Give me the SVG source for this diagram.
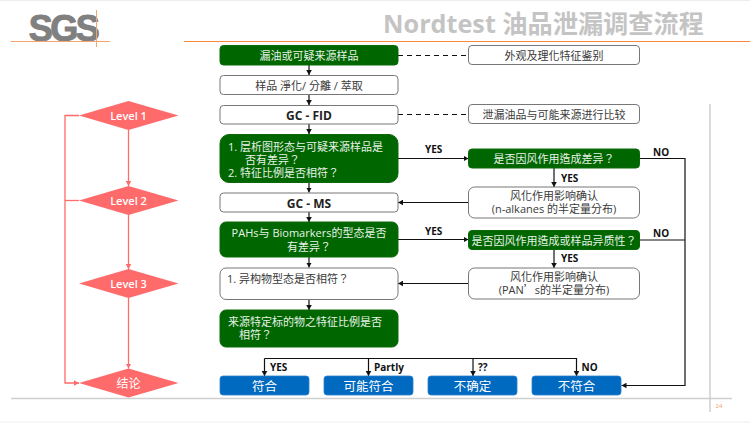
<svg xmlns="http://www.w3.org/2000/svg" width="750" height="423" viewBox="0 0 750 423">
<defs>
<marker id="a" markerWidth="6" markerHeight="6" refX="5" refY="3" orient="auto" markerUnits="userSpaceOnUse"><path d="M0,0.2 L5,3 L0,5.8Z" fill="#111"/></marker>
<marker id="p" markerWidth="6" markerHeight="6" refX="5" refY="3" orient="auto" markerUnits="userSpaceOnUse"><path d="M0,0.2 L5,3 L0,5.8Z" fill="#ff6a6a"/></marker>
</defs>
<style>
text{font-family:"Open Sans","Noto Sans CJK TC",sans-serif;text-anchor:middle;font-size:11px}
.g rect{fill:#006600;stroke:#0a6a0a;stroke-width:1}
.g text{fill:#e8f2e8}
.w rect{fill:#fff;stroke:#777;stroke-width:1}
.w text{fill:#3a3a3a}
.b rect{fill:#0069c0;stroke:#2a80cc;stroke-width:.8}
.b text{fill:#fff;font-size:12.5px}
.d polygon{fill:#ff6a6a}
.d text{fill:#fff;font-weight:600;font-size:11px}
.w text.h{font-weight:700;font-size:12px;fill:#222}
.l{text-anchor:start}
.c path{fill:none;stroke:#111;stroke-width:1.2}
.k path{fill:none;stroke:#ff6a6a;stroke-width:1.3}
.t{font-weight:700;font-size:10px;fill:#111;text-anchor:start}
.cjk{font-family:"Noto Sans CJK TC",sans-serif}
</style>
<rect width="750" height="423" fill="#fff"/>
<path d="M0,.5H750M0,422H750" stroke="#eee" fill="none"/>
<g id="header">
<text x="63" y="41" style="font-family:'Liberation Sans',sans-serif;font-size:36px;font-weight:700;fill:#808080;stroke:#808080;stroke-width:1;letter-spacing:-2.500px">SGS</text>
<path d="M10.500,41.500H110M96.500,10V47" stroke="#f5a36a" fill="none"/>
<path d="M184,41.500H750" stroke="#f58a3c" fill="none"/>
<text x="543.500" y="33" style="font-size:25.200px;font-weight:700;fill:#c4c4c4">Nordtest 油品泄漏调查流程</text>
<path d="M710,104V412M11,398.500H732" stroke="#cfcfcf" stroke-width="1.500" fill="none"/>
<text x="719" y="408" style="font-size:6px;fill:#f5a36a">24</text>
</g>
<g id="connectors" class="c">
<path d="M309,65V75" marker-end="url(#a)"/>
<path d="M309,95V105" marker-end="url(#a)"/>
<path d="M309,124V134" marker-end="url(#a)"/>
<path d="M309,182V192.500" marker-end="url(#a)"/>
<path d="M309,212V222" marker-end="url(#a)"/>
<path d="M309,257V267.500" marker-end="url(#a)"/>
<path d="M309,299.500V310" marker-end="url(#a)"/>
<path d="M398,55.500H468" stroke-dasharray="5 4"/>
<path d="M398,114.500H468" stroke-dasharray="5 4"/>
<path d="M398,158.500H468.500" marker-end="url(#a)"/>
<path d="M398,239.500H468.500" marker-end="url(#a)"/>
<path d="M554,168V187" marker-end="url(#a)"/>
<path d="M554,249.500V268" marker-end="url(#a)"/>
<path d="M468.500,202.500H398" marker-end="url(#a)"/>
<path d="M468.500,283.500H398" marker-end="url(#a)"/>
<path d="M639.500,158.500H685V385.500H621.500" marker-end="url(#a)"/>
<path d="M639.500,240H685"/>
<path d="M264.500,358.500H576.500V376" marker-end="url(#a)"/>
<path d="M264.500,358.500V376" marker-end="url(#a)"/>
<path d="M368.500,358.500V376" marker-end="url(#a)"/>
<path d="M473,358.500V376" marker-end="url(#a)"/>
</g>
<g id="level-connectors" class="k">
<path d="M128.500,130V186" marker-end="url(#p)"/>
<path d="M128.500,215V269" marker-end="url(#p)"/>
<path d="M128.500,298V368.500" marker-end="url(#p)"/>
<path d="M79,115.500H65V383H79" marker-end="url(#p)"/>
<path d="M79,200.500H65"/>
</g>
<g id="n1" class="g"><rect x="220" y="45.500" width="178" height="19.500" rx="3.500"/><text x="309" y="59.500">漏油或可疑来源样品</text></g>
<g id="n2" class="w"><rect x="220" y="75.500" width="178" height="19" rx="3.500"/><text x="309" y="90">样品 淨化/ 分離 / 萃取</text></g>
<g id="n3" class="w"><rect x="220" y="105.500" width="178" height="18.500" rx="3.500"/><text class="h" x="309" y="120">GC - FID</text></g>
<g id="n4" class="g"><rect x="220" y="134.500" width="178" height="48" rx="9"/><text class="l"><tspan x="228" y="150.500">1. 层析图形态与可疑来源样品是</tspan><tspan x="245" y="163.500">否有差异？</tspan><tspan x="228" y="177">2. 特征比例是否相符？</tspan></text></g>
<g id="n5" class="w"><rect x="220" y="193" width="178" height="19" rx="3.500"/><text class="h" x="309" y="208">GC - MS</text></g>
<g id="n6" class="g"><rect x="220" y="222" width="178" height="35" rx="6"/><text><tspan x="309" y="237">PAHs与 Biomarkers的型态是否</tspan><tspan x="309" y="250.500">有差异？</tspan></text></g>
<g id="n7" class="w"><rect x="220" y="268" width="178" height="31.500" rx="6"/><text class="l" x="227" y="283">1. 异构物型态是否相符？</text></g>
<g id="n8" class="g"><rect x="220" y="310" width="178" height="37" rx="6"/><text class="l"><tspan x="228" y="325.500">来源特定标的物之特征比例是否</tspan><tspan x="239" y="338.500">相符？</tspan></text></g>
<g id="r1" class="w"><rect x="468.500" y="45.500" width="171" height="19" rx="3.500"/><text x="554" y="60">外观及理化特征鉴别</text></g>
<g id="r2" class="w"><rect x="468.500" y="104.500" width="171" height="19" rx="3.500"/><text x="554" y="119">泄漏油品与可能来源进行比较</text></g>
<g id="r3" class="g"><rect x="468.500" y="149" width="171" height="19" rx="3.500"/><text x="554" y="163">是否因风作用造成差异？</text></g>
<g id="r4" class="w"><rect x="468.500" y="187" width="171" height="31" rx="6"/><text><tspan x="554" y="200">风化作用影响确认</tspan><tspan x="554" y="213">(n-alkanes 的半定量分布)</tspan></text></g>
<g id="r5" class="g"><rect x="468.500" y="230.500" width="171" height="19" rx="3.500"/><text x="554" y="244.500">是否因风作用造成或样品异质性？</text></g>
<g id="r6" class="w"><rect x="468.500" y="268" width="171" height="31" rx="6"/><text><tspan x="554" y="281">风化作用影响确认</tspan><tspan x="554" y="294">(PAN<tspan class="cjk">’</tspan>s的半定量分布)</tspan></text></g>
<g id="o1" class="b"><rect x="220" y="376" width="89" height="19" rx="3"/><text x="264.500" y="391">符合</text></g>
<g id="o2" class="b"><rect x="324" y="376" width="89" height="19" rx="3"/><text x="368.500" y="391">可能符合</text></g>
<g id="o3" class="b"><rect x="428" y="376" width="89" height="19" rx="3"/><text x="472.500" y="391">不确定</text></g>
<g id="o4" class="b"><rect x="532" y="376" width="89" height="19" rx="3"/><text x="576.500" y="391">不符合</text></g>
<g id="level1" class="d"><polygon points="128.500,101 178.500,115.500 128.500,130 79,115.500"/><text x="128.500" y="120">Level 1</text></g>
<g id="level2" class="d"><polygon points="128.500,186 178.500,200.500 128.500,215 79,200.500"/><text x="128.500" y="205">Level 2</text></g>
<g id="level3" class="d"><polygon points="128.500,269 178.500,283.500 128.500,298 79,283.500"/><text x="128.500" y="288">Level 3</text></g>
<g id="concl" class="d"><polygon points="128.500,368.500 178.500,383 128.500,397.500 79,383"/><text x="128.500" y="387.500" style="font-size:12px;font-weight:400">结论</text></g>
<g id="labels">
<text class="t" x="425" y="153">YES</text><text class="t" x="425" y="235">YES</text>
<text class="t" x="561" y="182">YES</text><text class="t" x="561" y="262">YES</text>
<text class="t" x="653" y="156">NO</text><text class="t" x="653" y="237">NO</text>
<text class="t" x="270" y="371">YES</text><text class="t" x="374" y="371">Partly</text>
<text class="t" x="478" y="371">??</text><text class="t" x="581.500" y="371">NO</text>
</g>
</svg>
